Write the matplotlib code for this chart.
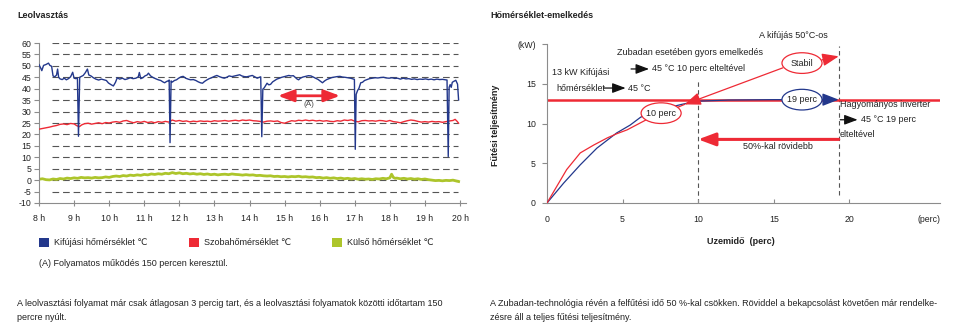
import matplotlib
matplotlib.use("Agg")
import matplotlib.pyplot as plt
from matplotlib import font_manager
from matplotlib.patches import Ellipse, Rectangle, ArrowStyle

# ---------------------------------------------------------------- fonts
installed = {f.name for f in font_manager.fontManager.ttflist}
if "Liberation Sans Narrow" in installed:
    FAMILY = ["Liberation Sans Narrow", "DejaVu Sans"]
    FS, TICK_FS = 7.6, 7.4
else:
    FAMILY = ["Liberation Sans", "DejaVu Sans"]
    FS, TICK_FS = 6.45, 6.3
plt.rcParams["font.family"] = FAMILY

NAVY = "#23388c"
RED = "#ee2a35"
LIME = "#adc52b"
SPINE = "#8c8c8c"
INK = "#222222"

# ---------------------------------------------------------------- data: defrost log (hours, °C)
blue_t = [8.00, 8.05, 8.08, 8.13, 8.20, 8.27, 8.31, 8.36, 8.40, 8.45, 8.50, 8.53, 8.56, 8.60,
          8.66, 8.72, 8.78, 8.84, 8.90, 8.96, 9.00, 9.05, 9.095, 9.125, 9.16, 9.20, 9.26, 9.32,
          9.38, 9.42, 9.48, 9.55, 9.62, 9.70, 9.78, 9.85, 9.92, 9.98, 10.05, 10.12, 10.18, 10.23,
          10.30, 10.38, 10.45, 10.52, 10.60, 10.68, 10.76, 10.83, 10.86, 10.90, 10.96, 11.02,
          11.08, 11.12, 11.18, 11.25, 11.32, 11.40, 11.47, 11.53, 11.58, 11.64, 11.69, 11.71,
          11.735, 11.765, 11.80, 11.86, 11.92, 11.98, 12.05, 12.11, 12.18, 12.25, 12.32, 12.40,
          12.47, 12.54, 12.60, 12.66, 12.72, 12.78, 12.85, 12.92, 13.00, 13.07, 13.14, 13.21,
          13.28, 13.35, 13.42, 13.50, 13.58, 13.65, 13.72, 13.78, 13.85, 13.92, 14.00, 14.08,
          14.15, 14.22, 14.28, 14.32, 14.35, 14.38, 14.42, 14.47, 14.50, 14.55, 14.60, 14.66,
          14.72, 14.78, 14.85, 14.92, 15.00, 15.06, 15.12, 15.18, 15.25, 15.30, 15.36, 15.40,
          15.45, 15.52, 15.60, 15.68, 15.75, 15.82, 15.88, 15.95, 16.02, 16.08, 16.14, 16.20,
          16.27, 16.35, 16.42, 16.50, 16.58, 16.65, 16.72, 16.80, 16.88, 16.94, 16.99, 17.015,
          17.04, 17.08, 17.12, 17.17, 17.22, 17.28, 17.35, 17.42, 17.50, 17.58, 17.66, 17.74,
          17.82, 17.90, 17.98, 18.06, 18.14, 18.22, 18.30, 18.38, 18.46, 18.54, 18.62, 18.70,
          18.78, 18.86, 18.94, 19.02, 19.10, 19.18, 19.26, 19.34, 19.42, 19.50, 19.58, 19.63,
          19.665, 19.69, 19.72, 19.75, 19.78, 19.81, 19.88, 19.93, 19.96]
blue_v = [50.5, 49.0, 47.9, 50.2, 50.6, 51.2, 50.2, 49.8, 45.6, 45.2, 46.0, 48.6, 45.0, 44.3,
          44.0, 44.6, 43.9, 44.4, 45.2, 47.2, 44.6, 44.4, 44.8, 19.2, 45.0, 45.3, 45.8, 47.0,
          48.6, 46.0, 45.6, 44.8, 44.2, 43.8, 44.2, 43.9, 43.6, 42.5, 41.8, 41.2, 42.8, 44.8,
          44.2, 44.6, 44.0, 44.3, 44.8, 44.4, 44.6, 45.2, 47.1, 44.4, 44.8, 45.6,
          46.0, 46.8, 45.6, 44.9, 44.4, 43.9, 43.6, 43.0, 42.6, 43.2, 43.5, 43.8,
          16.4, 43.4, 42.9, 43.6, 43.9, 44.6, 45.2, 45.4, 44.6, 44.2, 43.9, 44.0,
          43.6, 43.0, 42.6, 42.4, 43.2, 43.8, 44.4, 44.8, 45.4, 45.8, 45.3, 44.9,
          44.6, 45.0, 45.6, 45.3, 45.6, 45.9, 46.1, 45.6, 45.3, 45.2, 45.5, 45.8,
          45.2, 44.6, 45.0, 45.2, 19.0, 39.8, 40.4, 41.6, 42.4, 41.7, 41.9, 43.0,
          43.6, 44.2, 44.6, 45.0, 45.3, 45.5, 45.8, 45.6, 45.7, 45.0, 44.2, 43.9,
          44.6, 45.1, 45.4, 45.7, 45.6, 45.1, 44.6, 44.1, 43.3, 42.6, 43.4, 44.0,
          44.4, 44.9, 45.1, 45.3, 45.4, 45.1, 45.0, 44.8, 44.6, 44.3, 44.1, 13.5,
          37.5, 39.2, 40.2, 42.6, 42.8, 43.6, 44.0, 44.4, 44.6, 44.8, 44.7, 44.9,
          45.0, 44.7, 44.6, 44.8, 44.5, 44.6, 44.2, 44.6, 44.3, 44.4, 44.1, 44.3,
          44.0, 44.2, 44.1, 44.3, 44.0, 44.2, 43.9, 44.2, 44.0, 44.1, 43.9, 43.8,
          10.3, 40.6, 41.8, 40.6, 42.8, 43.1, 43.7, 42.0, 35.1]

red_t = [8.00, 8.10, 8.20, 8.30, 8.40, 8.50, 8.60, 8.70, 8.80, 8.90, 9.00, 9.08, 9.15, 9.22,
         9.30, 9.40, 9.50, 9.60, 9.70, 9.80, 9.90, 10.00, 10.10, 10.20, 10.30, 10.40, 10.50,
         10.60, 10.70, 10.80, 10.90, 11.00, 11.10, 11.20, 11.30, 11.40, 11.50, 11.60, 11.70,
         11.80, 11.90, 12.00, 12.10, 12.20, 12.30, 12.40, 12.50, 12.60, 12.70, 12.80, 12.90,
         13.00, 13.10, 13.20, 13.30, 13.40, 13.50, 13.60, 13.70, 13.80, 13.90, 14.00, 14.10,
         14.20, 14.30, 14.40, 14.50, 14.60, 14.70, 14.80, 14.90, 15.00, 15.10, 15.20, 15.30,
         15.40, 15.50, 15.60, 15.70, 15.80, 15.90, 16.00, 16.10, 16.20, 16.30, 16.40, 16.50,
         16.60, 16.70, 16.80, 16.90, 17.00, 17.10, 17.20, 17.30, 17.40, 17.50, 17.60, 17.70,
         17.80, 17.90, 18.00, 18.10, 18.20, 18.30, 18.40, 18.50, 18.60, 18.70, 18.80, 18.90,
         19.00, 19.10, 19.20, 19.30, 19.40, 19.50, 19.60, 19.70, 19.80, 19.86, 19.92, 19.96]
red_v = [22.3, 22.6, 22.9, 23.2, 23.6, 23.9, 24.4, 24.6, 24.3, 24.8, 24.6, 23.8, 23.4, 24.2,
         24.7, 24.9, 24.5, 24.8, 25.1, 24.7, 25.2, 25.0, 25.4, 25.6, 25.3, 25.9, 26.1,
         25.5, 25.1, 25.6, 25.3, 25.7, 25.2, 25.5, 25.1, 25.6, 25.3, 25.7, 25.4,
         26.3, 25.8, 26.1, 25.7, 25.9, 25.5, 25.8, 25.6, 25.9, 25.7, 25.8, 25.6,
         26.0, 25.8, 25.9, 26.1, 25.8, 26.0, 26.2, 25.9, 26.3, 26.1, 26.3, 26.0,
         25.9, 25.7, 25.4, 25.8, 25.9, 25.7, 25.9, 25.2, 24.9, 25.5, 26.0, 25.8,
         26.2, 26.0, 26.3, 26.0, 26.2, 25.9, 26.1, 25.8, 26.0, 25.7, 25.6, 26.0,
         25.8, 26.3, 26.1, 26.4, 25.8, 25.5, 26.0, 26.1, 25.9, 26.0, 25.8, 26.1,
         26.0, 25.7, 26.1, 25.6, 25.4, 25.1, 25.6, 26.0, 26.3, 26.1, 25.7, 25.4,
         25.6, 25.4, 25.7, 25.5, 25.6, 25.3, 25.6, 25.9, 26.1, 26.6, 25.7, 24.9]

green_t = [8.0, 8.1, 8.2, 8.3, 8.4, 8.5, 8.6, 8.7, 8.8, 8.9, 9.0, 9.1, 9.2, 9.3, 9.4, 9.5,
           9.6, 9.7, 9.8, 9.9, 10.0, 10.1, 10.2, 10.3, 10.4, 10.5, 10.6, 10.7, 10.8, 10.9,
           11.0, 11.1, 11.2, 11.3, 11.4, 11.5, 11.6, 11.7, 11.8, 11.9, 12.0, 12.1, 12.2, 12.3,
           12.4, 12.5, 12.6, 12.7, 12.8, 12.9, 13.0, 13.1, 13.2, 13.3, 13.4, 13.5, 13.6, 13.7,
           13.8, 13.9, 14.0, 14.1, 14.2, 14.3, 14.4, 14.5, 14.6, 14.7, 14.8, 14.9, 15.0, 15.1,
           15.2, 15.3, 15.4, 15.5, 15.6, 15.7, 15.8, 15.9, 16.0, 16.1, 16.2, 16.3, 16.4, 16.5,
           16.6, 16.7, 16.8, 16.9, 17.0, 17.1, 17.2, 17.3, 17.4, 17.5, 17.6, 17.7, 17.8, 17.9,
           18.0, 18.05, 18.1, 18.15, 18.2, 18.3, 18.4, 18.5, 18.6, 18.7, 18.8, 18.9, 19.0,
           19.1, 19.2, 19.3, 19.4, 19.5, 19.6, 19.7, 19.8, 19.9, 19.96]
green_v = [0.4, 0.6, 0.2, 0.1, 0.5, 0.3, 0.7, 0.5, 0.9, 0.7, 1.0, 0.8, 1.2, 1.0, 1.1, 0.9,
           1.2, 1.0, 1.1, 1.4, 1.2, 1.6, 1.8, 1.6, 2.0, 1.8, 2.2, 2.0, 2.3, 2.1,
           2.5, 2.3, 2.7, 2.5, 2.8, 2.6, 3.0, 2.8, 3.3, 2.9, 3.2, 2.8, 3.0, 2.7,
           2.9, 2.6, 2.8, 2.5, 2.7, 2.4, 2.6, 2.3, 2.5, 2.6, 2.4, 2.7, 2.5, 2.4,
           2.2, 2.4, 2.2, 2.3, 2.0, 2.1, 1.9, 1.8, 1.9, 1.6, 1.7, 1.5, 1.6, 1.4,
           1.6, 1.5, 1.7, 1.4, 1.5, 1.3, 1.4, 1.1, 1.2, 0.9, 1.1, 0.8, 1.0, 0.7,
           0.9, 0.6, 0.8, 0.5, 0.7, 0.4, 0.6, 0.4, 0.5, 0.3, 0.6, 0.5, 0.8, 0.6,
           1.0, 2.6, 1.2, 0.8, 0.9, 0.6, 0.8, 0.5, 0.7, 0.4, 0.6, 0.3, 0.5,
           0.2, 0.0, -0.2, -0.1, -0.3, -0.1, -0.2, 0.0, -0.4, -0.6]

series_labels = ["Kifújási hőmérséklet ℃", "Szobahőmérséklet ℃", "Külső hőmérséklet ℃"]
hour_ticks = list(range(8, 21))
temp_ticks = list(range(-10, 61, 5))
span_a = (14.81, 16.58)      # continuous run marked (A)
span_a_level = 36.9

# ---------------------------------------------------------------- data: heat-up curves (min, kW)
conv_min = [0, 1.1, 2.2, 3.3, 4.6, 5.5, 6.2, 7.4, 8.9, 9.9, 12.0, 15.0, 18.2, 19.3]
conv_kw = [0, 2.5, 4.8, 6.9, 8.8, 9.8, 10.8, 11.7, 12.4, 12.8, 12.95, 13.0, 13.0, 13.0]
zub_min = [0, 0.65, 1.3, 2.2, 3.1, 4.0, 4.6, 5.3, 5.9, 6.6, 7.6, 8.6, 9.1]
zub_kw = [0, 2.1, 4.2, 6.3, 7.3, 8.2, 8.7, 9.2, 9.8, 10.5, 11.3, 12.0, 12.4]
stable_min = [18.2, 19.3]
stable_kw = [18.0, 18.45]
rated_kw = 13
zub_reach_min = 10
conv_reach_min = 19.3
minute_ticks = [0, 5, 10, 15, 20]
kw_ticks = [0, 5, 10, 15, 20]
kw_labels = ["0", "5", "10", "15", "(kW)"]

# ---------------------------------------------------------------- figure
W, H = 963, 333
fig = plt.figure(figsize=(W / 100, H / 100), dpi=100)


def px_axes(left, top, right, bottom):
    return fig.add_axes([left / W, 1 - bottom / H, (right - left) / W, (bottom - top) / H])


def fig_text(x, y, s, **kw):
    kw.setdefault("fontsize", FS)
    kw.setdefault("color", INK)
    kw.setdefault("va", "center")
    fig.text(x / W, 1 - y / H, s, **kw)


# ======================= left: defrost
ax1 = px_axes(39, 43, 466, 203)
ax1.set_xlim(8, 8 + (466 - 39) / ((460 - 39) / 12))
ax1.set_ylim(-10, 60)
for s in ("top", "right"):
    ax1.spines[s].set_visible(False)
for s in ("left", "bottom"):
    ax1.spines[s].set_color(SPINE)
    ax1.spines[s].set_linewidth(0.8)
ax1.set_yticks(temp_ticks)
ax1.set_yticklabels([str(v) for v in temp_ticks])
ax1.set_xticks(hour_ticks)
ax1.set_xticklabels([f"{h} h" for h in hour_ticks])
ax1.tick_params(axis="y", direction="out", length=3.5, width=0.8, color=SPINE,
                labelsize=TICK_FS, labelcolor=INK, pad=2)
ax1.tick_params(axis="x", direction="inout", length=4, width=0.8, color=SPINE,
                labelsize=TICK_FS, labelcolor=INK, pad=6)
ax1.hlines([v for v in temp_ticks if v > -10], 8.36, 19.95, colors="#555555",
           linestyles=(0, (6, 3.5)), lw=0.8, zorder=1)

ax1.plot(green_t, green_v, color=LIME, lw=2.0, zorder=2)
ax1.plot(red_t, red_v, color=RED, lw=1.0, zorder=3)
ax1.plot(blue_t, blue_v, color=NAVY, lw=1.0, zorder=4)

ax1.annotate("", xy=(span_a[0], span_a_level), xytext=(span_a[1], span_a_level),
             arrowprops=dict(arrowstyle=ArrowStyle("<|-|>", head_length=0.8, head_width=0.3),
                             color=RED, lw=2.0, mutation_scale=12, shrinkA=0, shrinkB=0),
             zorder=5)
ax1.text((span_a[0] + span_a[1]) / 2, span_a_level - 3.6, "(A)", ha="center", va="center",
         fontsize=FS - 0.6, color="#4d4d4d", zorder=5)

fig_text(17, 15, "Leolvasztás", fontweight="bold")

legend_x = [39, 189, 332]
for x, lab, col in zip(legend_x, series_labels, [NAVY, RED, LIME]):
    fig.add_artist(Rectangle((x / W, 1 - 247 / H), 10 / W, 9 / H,
                             transform=fig.transFigure, color=col, lw=0))
    fig_text(x + 15, 242.5, lab)

fig_text(39, 264, "(A) Folyamatos működés 150 percen keresztül.")
fig_text(17, 303, "A leolvasztási folyamat már csak átlagosan 3 percig tart, és a leolvasztási "
                  "folyamatok közötti időtartam 150")
fig_text(17, 318, "percre nyúlt.")

# ======================= right: heat-up
ax2 = px_axes(547, 44, 940, 203)
ax2.set_xlim(0, 26)
ax2.set_ylim(0, 20)
for s in ("top", "right"):
    ax2.spines[s].set_visible(False)
for s in ("left", "bottom"):
    ax2.spines[s].set_color(SPINE)
    ax2.spines[s].set_linewidth(0.8)
ax2.set_xticks(minute_ticks + [25.3])
ax2.set_xticklabels([str(m) for m in minute_ticks] + ["(perc)"])
ax2.xaxis.get_major_ticks()[-1].tick1line.set_visible(False)
ax2.set_yticks(kw_ticks)
ax2.set_yticklabels(kw_labels)
ax2.tick_params(axis="x", direction="in", length=3, width=0.8, color=SPINE,
                labelsize=TICK_FS, labelcolor=INK, pad=9)
ax2.tick_params(axis="y", direction="out", length=3.5, width=0.8, color=SPINE,
                labelsize=TICK_FS, labelcolor=INK, pad=4.5)

ax2.axhline(rated_kw, color=RED, lw=1.8, zorder=2)
ax2.vlines(zub_reach_min, 0, 15.5, colors="#555555", linestyles=(0, (4, 3)), lw=0.8, zorder=1)
ax2.vlines(conv_reach_min, 1.0, 19.7, colors="#555555", linestyles=(0, (4, 3)), lw=0.8, zorder=1)

ax2.plot(conv_min[:-1], conv_kw[:-1], color=NAVY, lw=0.9, zorder=3)
ax2.plot(zub_min, zub_kw, color=RED, lw=0.9, zorder=3)

head = ArrowStyle("-|>", head_length=0.9, head_width=0.35)
ax2.annotate("", xy=(conv_min[-1], conv_kw[-1]), xytext=(conv_min[-2], conv_kw[-2]),
             arrowprops=dict(arrowstyle=head, color=NAVY, lw=1.0, mutation_scale=11,
                             shrinkA=0, shrinkB=0), zorder=3)
ax2.annotate("", xy=(zub_min[-1], zub_kw[-1]), xytext=(15.6, 17.0),
             arrowprops=dict(arrowstyle=head, color=RED, lw=0.9, mutation_scale=11,
                             shrinkA=0, shrinkB=0), zorder=3)
ax2.annotate("", xy=(stable_min[1], stable_kw[1]), xytext=(stable_min[0], stable_kw[0]),
             arrowprops=dict(arrowstyle=head, color=RED, lw=1.0, mutation_scale=11,
                             shrinkA=0, shrinkB=0), zorder=3)

for label, cx, cy, col in [("10 perc", 7.55, 11.3, RED),
                           ("19 perc", 16.87, 13.0, NAVY),
                           ("Stabil", 16.87, 17.6, RED)]:
    ax2.add_patch(Ellipse((cx, cy), 2.65, 2.6, facecolor="white", edgecolor=col,
                          lw=0.9, zorder=4))
    ax2.text(cx, cy, label, ha="center", va="center", fontsize=FS, color=INK, zorder=5)

ax2.annotate("", xy=(zub_reach_min, 8.0), xytext=(conv_reach_min, 8.0),
             arrowprops=dict(arrowstyle=ArrowStyle("-|>", head_length=0.8, head_width=0.3),
                             color=RED, lw=2.2, mutation_scale=13, shrinkA=0, shrinkB=0),
             zorder=3)
ax2.text(15.3, 7.1, "50%-kal rövidebb", ha="center", va="center", fontsize=FS, color=INK)

black_head = dict(arrowstyle=ArrowStyle("-|>", head_length=0.8, head_width=0.3),
                  color="#111111", lw=0.9, mutation_scale=10, shrinkA=0, shrinkB=0)


def note(x, y, s, ha="left"):
    ax2.text(x, y, s, ha=ha, va="center", fontsize=FS, color=INK, clip_on=False)


note(16.29, 21.06, "A kifújás 50°C-os", ha="center")
note(4.64, 18.9, "Zubadan esetében gyors emelkedés")
ax2.annotate("", xy=(6.75, 16.86), xytext=(5.56, 16.86), arrowprops=black_head)
note(6.95, 16.86, "45 °C 10 perc elteltével")
note(0.31, 16.43, "13 kW Kifújási")
note(0.6, 14.46, "hőmérséklet")
ax2.annotate("", xy=(5.2, 14.46), xytext=(3.75, 14.46), arrowprops=black_head)
note(5.35, 14.46, "45 °C")
note(19.4, 12.36, "Hagyományos inverter")
ax2.annotate("", xy=(20.55, 10.47), xytext=(19.4, 10.47), arrowprops=black_head)
note(20.75, 10.47, "45 °C 19 perc")
note(19.37, 8.66, "elteltével")

fig_text(490, 15, "Hőmérséklet-emelkedés", fontweight="bold")
fig_text(741, 241, "Uzemidő  (perc)", ha="center", fontweight="bold")
fig_text(495, 125, "Fűtési teljesítmény", ha="center", rotation=90, fontweight="bold")
fig_text(490, 303, "A Zubadan-technológia révén a felfűtési idő 50 %-kal csökken. Röviddel a "
                   "bekapcsolást követően már rendelke-")
fig_text(490, 317, "zésre áll a teljes fűtési teljesítmény.")

fig.savefig("out.png", dpi=100)
